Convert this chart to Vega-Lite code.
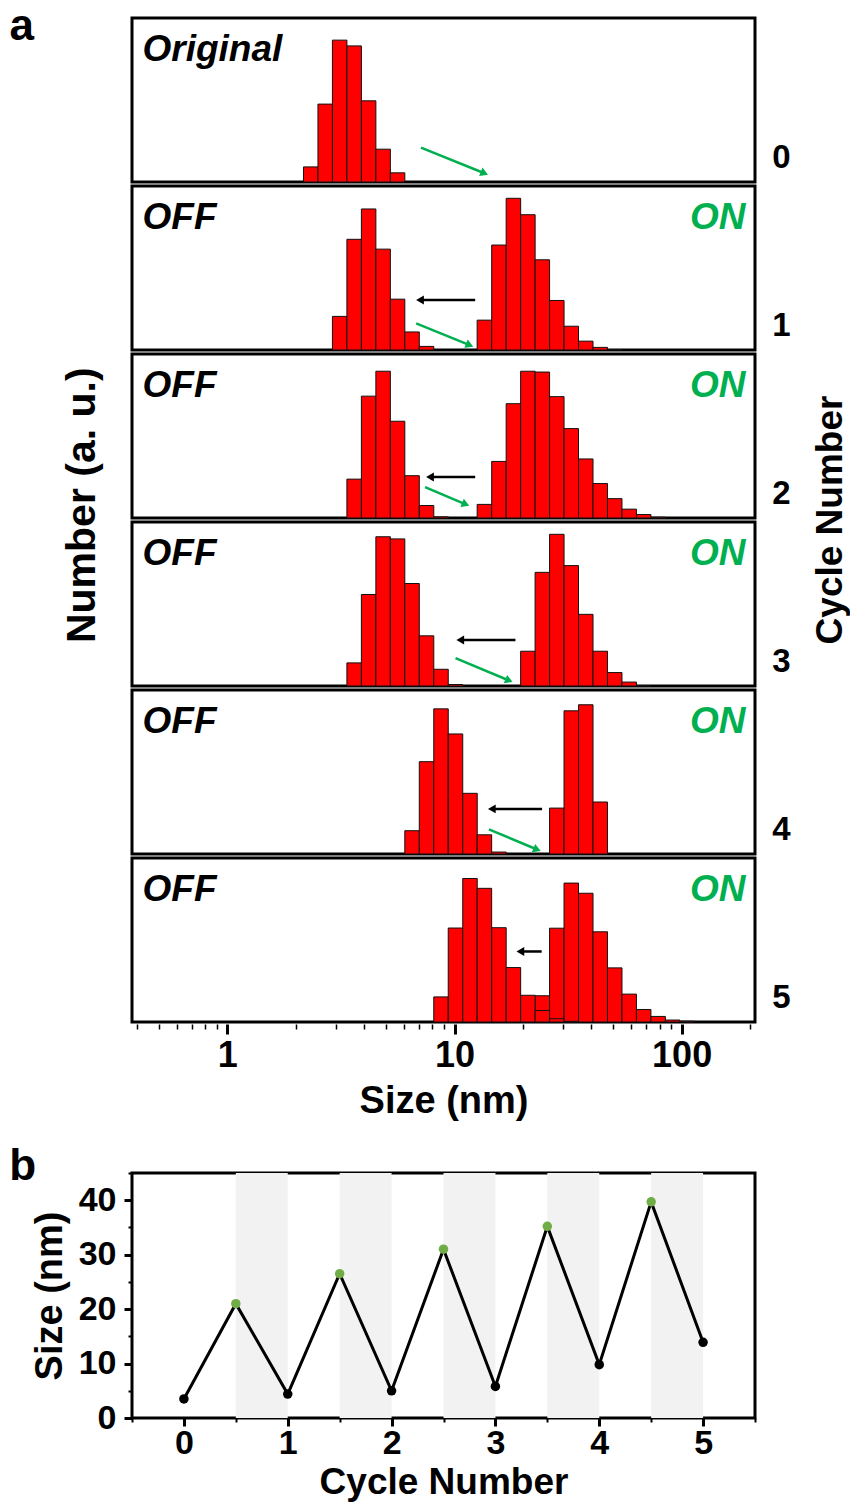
{
  "$schema": "https://vega.github.io/schema/vega-lite/v6.json",
  "background": "white",
  "padding": {"left": 7, "top": 4, "right": 0, "bottom": 0},
  "config": {
    "font": "Liberation Sans",
    "view": {"stroke": "black", "strokeWidth": 3},
    "axis": {
      "grid": false,
      "labelFont": "Liberation Sans",
      "labelFontWeight": "bold",
      "labelColor": "black",
      "titleFont": "Liberation Sans",
      "titleFontWeight": "bold",
      "titleColor": "black",
      "tickColor": "black",
      "domainColor": "black",
      "labelFlush": false,
      "labelOverlap": false
    },
    "title": {"font": "Liberation Sans", "fontWeight": "bold", "color": "black"}
  },
  "resolve": {"scale": {"color": "independent"}},
  "spacing": 23,
  "vconcat": [
    {
      "title": {"text": "a", "anchor": "start", "frame": "bounds", "fontSize": 44, "baseline": "alphabetic", "offset": -67, "dx": -52},
      "vconcat": [
        {
          "title": {"text": "Number (a. u.)", "orient": "left", "anchor": "middle", "frame": "bounds", "fontSize": 41, "offset": 27, "dx": 63},
          "data": {"values": [
            {"kind": "bar", "cycle": 0, "state": "OFF", "size": 2.328, "number": 9.2},
            {"kind": "bar", "cycle": 0, "state": "OFF", "size": 2.696, "number": 47.5},
            {"kind": "bar", "cycle": 0, "state": "OFF", "size": 3.122, "number": 86.5},
            {"kind": "bar", "cycle": 0, "state": "OFF", "size": 3.615, "number": 83},
            {"kind": "bar", "cycle": 0, "state": "OFF", "size": 4.187, "number": 49.5},
            {"kind": "bar", "cycle": 0, "state": "OFF", "size": 4.849, "number": 20},
            {"kind": "bar", "cycle": 0, "state": "OFF", "size": 5.615, "number": 5.6},

            {"kind": "bar", "cycle": 1, "state": "OFF", "size": 3.122, "number": 20.5},
            {"kind": "bar", "cycle": 1, "state": "OFF", "size": 3.615, "number": 67.5},
            {"kind": "bar", "cycle": 1, "state": "OFF", "size": 4.187, "number": 86},
            {"kind": "bar", "cycle": 1, "state": "OFF", "size": 4.849, "number": 61.5},
            {"kind": "bar", "cycle": 1, "state": "OFF", "size": 5.615, "number": 31},
            {"kind": "bar", "cycle": 1, "state": "OFF", "size": 6.503, "number": 11},
            {"kind": "bar", "cycle": 1, "state": "OFF", "size": 7.531, "number": 2.2},
            {"kind": "bar", "cycle": 1, "state": "ON", "size": 13.54, "number": 18.2},
            {"kind": "bar", "cycle": 1, "state": "ON", "size": 15.69, "number": 64},
            {"kind": "bar", "cycle": 1, "state": "ON", "size": 18.17, "number": 92.5},
            {"kind": "bar", "cycle": 1, "state": "ON", "size": 21.04, "number": 82.5},
            {"kind": "bar", "cycle": 1, "state": "ON", "size": 24.36, "number": 55},
            {"kind": "bar", "cycle": 1, "state": "ON", "size": 28.21, "number": 30.2},
            {"kind": "bar", "cycle": 1, "state": "ON", "size": 32.67, "number": 14.5},
            {"kind": "bar", "cycle": 1, "state": "ON", "size": 37.84, "number": 5.4},
            {"kind": "bar", "cycle": 1, "state": "ON", "size": 43.82, "number": 1.6},
            {"kind": "bar", "cycle": 1, "state": "ON", "size": 50.75, "number": 0.3},

            {"kind": "bar", "cycle": 2, "state": "OFF", "size": 3.615, "number": 23.7},
            {"kind": "bar", "cycle": 2, "state": "OFF", "size": 4.187, "number": 74.3},
            {"kind": "bar", "cycle": 2, "state": "OFF", "size": 4.849, "number": 89.5},
            {"kind": "bar", "cycle": 2, "state": "OFF", "size": 5.615, "number": 59},
            {"kind": "bar", "cycle": 2, "state": "OFF", "size": 6.503, "number": 25.8},
            {"kind": "bar", "cycle": 2, "state": "OFF", "size": 7.531, "number": 7.6},
            {"kind": "bar", "cycle": 2, "state": "OFF", "size": 8.721, "number": 0.7},
            {"kind": "bar", "cycle": 2, "state": "ON", "size": 13.54, "number": 8.3},
            {"kind": "bar", "cycle": 2, "state": "ON", "size": 15.69, "number": 34.5},
            {"kind": "bar", "cycle": 2, "state": "ON", "size": 18.17, "number": 69.7},
            {"kind": "bar", "cycle": 2, "state": "ON", "size": 21.04, "number": 89.5},
            {"kind": "bar", "cycle": 2, "state": "ON", "size": 24.36, "number": 89},
            {"kind": "bar", "cycle": 2, "state": "ON", "size": 28.21, "number": 74},
            {"kind": "bar", "cycle": 2, "state": "ON", "size": 32.67, "number": 54.5},
            {"kind": "bar", "cycle": 2, "state": "ON", "size": 37.84, "number": 36},
            {"kind": "bar", "cycle": 2, "state": "ON", "size": 43.82, "number": 21},
            {"kind": "bar", "cycle": 2, "state": "ON", "size": 50.75, "number": 11.8},
            {"kind": "bar", "cycle": 2, "state": "ON", "size": 58.77, "number": 5.4},
            {"kind": "bar", "cycle": 2, "state": "ON", "size": 68.06, "number": 2.1},
            {"kind": "bar", "cycle": 2, "state": "ON", "size": 78.82, "number": 0.5},

            {"kind": "bar", "cycle": 3, "state": "OFF", "size": 3.615, "number": 14.1},
            {"kind": "bar", "cycle": 3, "state": "OFF", "size": 4.187, "number": 55.8},
            {"kind": "bar", "cycle": 3, "state": "OFF", "size": 4.849, "number": 91},
            {"kind": "bar", "cycle": 3, "state": "OFF", "size": 5.615, "number": 89.7},
            {"kind": "bar", "cycle": 3, "state": "OFF", "size": 6.503, "number": 62.5},
            {"kind": "bar", "cycle": 3, "state": "OFF", "size": 7.531, "number": 30.6},
            {"kind": "bar", "cycle": 3, "state": "OFF", "size": 8.721, "number": 10.2},
            {"kind": "bar", "cycle": 3, "state": "OFF", "size": 10.1, "number": 0.9},
            {"kind": "bar", "cycle": 3, "state": "ON", "size": 21.04, "number": 21.2},
            {"kind": "bar", "cycle": 3, "state": "ON", "size": 24.36, "number": 69.3},
            {"kind": "bar", "cycle": 3, "state": "ON", "size": 28.21, "number": 92.5},
            {"kind": "bar", "cycle": 3, "state": "ON", "size": 32.67, "number": 73.4},
            {"kind": "bar", "cycle": 3, "state": "ON", "size": 37.84, "number": 43.7},
            {"kind": "bar", "cycle": 3, "state": "ON", "size": 43.82, "number": 21.2},
            {"kind": "bar", "cycle": 3, "state": "ON", "size": 50.75, "number": 8.2},
            {"kind": "bar", "cycle": 3, "state": "ON", "size": 58.77, "number": 2.4},
            {"kind": "bar", "cycle": 3, "state": "ON", "size": 68.06, "number": 0.3},

            {"kind": "bar", "cycle": 4, "state": "OFF", "size": 6.503, "number": 14.2},
            {"kind": "bar", "cycle": 4, "state": "OFF", "size": 7.531, "number": 56.3},
            {"kind": "bar", "cycle": 4, "state": "OFF", "size": 8.721, "number": 88.5},
            {"kind": "bar", "cycle": 4, "state": "OFF", "size": 10.1, "number": 73.2},
            {"kind": "bar", "cycle": 4, "state": "OFF", "size": 11.7, "number": 37},
            {"kind": "bar", "cycle": 4, "state": "OFF", "size": 13.54, "number": 11.7},
            {"kind": "bar", "cycle": 4, "state": "OFF", "size": 15.69, "number": 1.2},
            {"kind": "bar", "cycle": 4, "state": "ON", "size": 28.21, "number": 28},
            {"kind": "bar", "cycle": 4, "state": "ON", "size": 32.67, "number": 87.3},
            {"kind": "bar", "cycle": 4, "state": "ON", "size": 37.84, "number": 91},
            {"kind": "bar", "cycle": 4, "state": "ON", "size": 43.82, "number": 31.7},

            {"kind": "bar", "cycle": 5, "state": "ON", "size": 24.36, "number": 16},
            {"kind": "bar", "cycle": 5, "state": "ON", "size": 28.21, "number": 57.2},
            {"kind": "bar", "cycle": 5, "state": "ON", "size": 32.67, "number": 84.7},
            {"kind": "bar", "cycle": 5, "state": "ON", "size": 37.84, "number": 78.5},
            {"kind": "bar", "cycle": 5, "state": "ON", "size": 43.82, "number": 55},
            {"kind": "bar", "cycle": 5, "state": "ON", "size": 50.75, "number": 33},
            {"kind": "bar", "cycle": 5, "state": "ON", "size": 58.77, "number": 17},
            {"kind": "bar", "cycle": 5, "state": "ON", "size": 68.06, "number": 7.6},
            {"kind": "bar", "cycle": 5, "state": "ON", "size": 78.82, "number": 3.4},
            {"kind": "bar", "cycle": 5, "state": "ON", "size": 91.28, "number": 1.2},
            {"kind": "bar", "cycle": 5, "state": "ON", "size": 105.7, "number": 0.5},
            {"kind": "bar", "cycle": 5, "state": "OFF", "size": 8.721, "number": 15.3},
            {"kind": "bar", "cycle": 5, "state": "OFF", "size": 10.1, "number": 57.3},
            {"kind": "bar", "cycle": 5, "state": "OFF", "size": 11.7, "number": 87.5},
            {"kind": "bar", "cycle": 5, "state": "OFF", "size": 13.54, "number": 81.5},
            {"kind": "bar", "cycle": 5, "state": "OFF", "size": 15.69, "number": 57.5},
            {"kind": "bar", "cycle": 5, "state": "OFF", "size": 18.17, "number": 33.2},
            {"kind": "bar", "cycle": 5, "state": "OFF", "size": 21.04, "number": 16.3},
            {"kind": "bar", "cycle": 5, "state": "OFF", "size": 24.36, "number": 7},
            {"kind": "bar", "cycle": 5, "state": "OFF", "size": 28.21, "number": 2},
            {"kind": "bar", "cycle": 5, "state": "OFF", "size": 32.67, "number": 0.4},

            {"kind": "arrow", "cycle": 0, "transition": "to_on", "size": 7.12, "number": 21, "size_end": 13.54, "number_end": 5.35},
            {"kind": "arrow", "cycle": 1, "transition": "to_off", "size": 12.33, "number": 30.5, "size_end": 7.05, "number_end": 30.5},
            {"kind": "arrow", "cycle": 1, "transition": "to_on", "size": 6.78, "number": 16.2, "size_end": 11.66, "number_end": 2.95},
            {"kind": "arrow", "cycle": 2, "transition": "to_off", "size": 12.33, "number": 25, "size_end": 7.8, "number_end": 25},
            {"kind": "arrow", "cycle": 2, "transition": "to_on", "size": 7.42, "number": 18.8, "size_end": 11.2, "number_end": 8.35},
            {"kind": "arrow", "cycle": 3, "transition": "to_off", "size": 18.55, "number": 28.1, "size_end": 10.6, "number_end": 28.1},
            {"kind": "arrow", "cycle": 3, "transition": "to_on", "size": 10.1, "number": 17, "size_end": 17.38, "number_end": 3.35},
            {"kind": "arrow", "cycle": 4, "transition": "to_off", "size": 24.3, "number": 27.5, "size_end": 14.6, "number_end": 27.5},
            {"kind": "arrow", "cycle": 4, "transition": "to_on", "size": 14.18, "number": 15, "size_end": 23.1, "number_end": 2.75},
            {"kind": "arrow", "cycle": 5, "transition": "to_off", "size": 24.2, "number": 43, "size_end": 19.5, "number_end": 43},

            {"kind": "label", "cycle": 0, "left_text": "Original", "right_text": ""},
            {"kind": "label", "cycle": 1, "left_text": "OFF", "right_text": "ON"},
            {"kind": "label", "cycle": 2, "left_text": "OFF", "right_text": "ON"},
            {"kind": "label", "cycle": 3, "left_text": "OFF", "right_text": "ON"},
            {"kind": "label", "cycle": 4, "left_text": "OFF", "right_text": "ON"},
            {"kind": "label", "cycle": 5, "left_text": "OFF", "right_text": "ON"}
          ]},
          "facet": {
            "row": {
              "field": "cycle",
              "type": "ordinal",
              "header": {
                "title": "Cycle Number",
                "titleOrient": "right",
                "titleAngle": 270,
                "titleFont": "Liberation Sans",
                "titleFontSize": 37,
                "titleFontWeight": "bold",
                "titleColor": "black",
                "titlePadding": 12,
                "labelOrient": "right",
                "labelAngle": 0,
                "labelAnchor": "end",
                "labelAlign": "left",
                "labelBaseline": "line-bottom",
                "labelLineHeight": 48,
                "labelFont": "Liberation Sans",
                "labelFontSize": 33,
                "labelFontWeight": "bold",
                "labelColor": "black",
                "labelPadding": -3
              }
            }
          },
          "spacing": 0,
          "spec": {
            "width": 623,
            "height": 164,
            "layer": [
              {
                "transform": [{"filter": "datum.kind == 'bar' && datum.state == 'ON'"}],
                "mark": {"type": "bar", "orient": "vertical", "size": 14.5, "fill": "#ff0000", "stroke": "#111111", "strokeWidth": 1},
                "encoding": {
                  "x": {
                    "field": "size",
                    "type": "quantitative",
                    "scale": {"type": "log", "domain": [0.4, 200], "nice": false},
                    "axis": {
                      "title": "Size (nm)",
                      "titleFontSize": 38,
                      "titlePadding": 9,
                      "labelFontSize": 36,
                      "labelPadding": 4,
                      "domain": false,
                      "values": [0.4, 0.5, 0.6, 0.7, 0.8, 0.9, 1, 2, 3, 4, 5, 6, 7, 8, 9, 10, 20, 30, 40, 50, 60, 70, 80, 90, 100, 200],
                      "labelExpr": "datum.value == 1 ? '1' : datum.value == 10 ? '10' : datum.value == 100 ? '100' : ''",
                      "tickSize": {"condition": {"test": "datum.value == 1 || datum.value == 10 || datum.value == 100", "value": 10}, "value": 5},
                      "tickWidth": {"condition": {"test": "datum.value == 1 || datum.value == 10 || datum.value == 100", "value": 3}, "value": 1.5}
                    }
                  },
                  "y": {"field": "number", "type": "quantitative", "scale": {"domain": [0, 100], "nice": false}, "axis": null}
                }
              },
              {
                "transform": [{"filter": "datum.kind == 'bar' && datum.state == 'OFF'"}],
                "mark": {"type": "bar", "orient": "vertical", "size": 14.5, "fill": "#ff0000", "stroke": "#111111", "strokeWidth": 1},
                "encoding": {
                  "x": {"field": "size", "type": "quantitative"},
                  "y": {"field": "number", "type": "quantitative", "axis": null}
                }
              },
              {
                "transform": [{"filter": "datum.kind == 'arrow'"}],
                "mark": {"type": "rule", "strokeWidth": 2.5},
                "encoding": {
                  "x": {"field": "size", "type": "quantitative"},
                  "x2": {"field": "size_end"},
                  "y": {"field": "number", "type": "quantitative", "axis": null},
                  "y2": {"field": "number_end"},
                  "color": {"field": "transition", "type": "nominal", "scale": {"domain": ["to_off", "to_on"], "range": ["black", "#00b050"]}, "legend": null}
                }
              },
              {
                "transform": [{"filter": "datum.kind == 'arrow' && datum.transition == 'to_off'"}],
                "mark": {"type": "point", "shape": "triangle-left", "filled": true, "size": 80, "color": "black", "opacity": 1},
                "encoding": {
                  "x": {"field": "size_end", "type": "quantitative"},
                  "y": {"field": "number_end", "type": "quantitative", "axis": null}
                }
              },
              {
                "transform": [{"filter": "datum.kind == 'arrow' && datum.transition == 'to_on'"}],
                "mark": {"type": "point", "shape": "triangle-right", "angle": 22.5, "filled": true, "size": 80, "color": "#00b050", "opacity": 1},
                "encoding": {
                  "x": {"field": "size_end", "type": "quantitative"},
                  "y": {"field": "number_end", "type": "quantitative", "axis": null}
                }
              },
              {
                "transform": [{"filter": "datum.kind == 'label'"}],
                "mark": {"type": "text", "align": "left", "baseline": "alphabetic", "fontSize": 37, "fontWeight": "bold", "fontStyle": "italic", "color": "black"},
                "encoding": {
                  "x": {"datum": 0.423, "type": "quantitative"},
                  "y": {"datum": 73.5, "type": "quantitative", "axis": null},
                  "text": {"field": "left_text"}
                }
              },
              {
                "transform": [{"filter": "datum.kind == 'label'"}],
                "mark": {"type": "text", "align": "right", "baseline": "alphabetic", "fontSize": 37, "fontWeight": "bold", "fontStyle": "italic", "color": "#00b050"},
                "encoding": {
                  "x": {"datum": 191, "type": "quantitative"},
                  "y": {"datum": 73.5, "type": "quantitative", "axis": null},
                  "text": {"field": "right_text"}
                }
              }
            ]
          }
        }
      ]
    },
    {
      "title": {"text": "b", "anchor": "start", "frame": "bounds", "fontSize": 44, "baseline": "alphabetic", "offset": -68, "dx": -22},
      "width": 623,
      "height": 245,
      "layer": [
        {
          "data": {"values": [
            {"on_start": 0.5, "on_end": 1},
            {"on_start": 1.5, "on_end": 2},
            {"on_start": 2.5, "on_end": 3},
            {"on_start": 3.5, "on_end": 4},
            {"on_start": 4.5, "on_end": 5}
          ]},
          "mark": {"type": "rect", "color": "#f2f2f2"},
          "encoding": {
            "x": {
              "field": "on_start",
              "type": "quantitative",
              "scale": {"domain": [-0.5, 5.5], "nice": false, "zero": false},
              "axis": {
                "title": "Cycle Number",
                "titleFontSize": 37,
                "titlePadding": 4,
                "labelFontSize": 34,
                "labelPadding": 0,
                "domain": false,
                "values": [-0.5, 0, 0.5, 1, 1.5, 2, 2.5, 3, 3.5, 4, 4.5, 5, 5.5],
                "labelExpr": "datum.value % 1 == 0 ? format(datum.value, 'd') : ''",
                "tickSize": {"condition": {"test": "datum.value % 1 == 0", "value": 8}, "value": 4},
                "tickWidth": {"condition": {"test": "datum.value % 1 == 0", "value": 3}, "value": 2}
              }
            },
            "x2": {"field": "on_end"}
          }
        },
        {
          "data": {"values": [
            {"cycle": 0, "size": 3.5, "state": "OFF"},
            {"cycle": 0.5, "size": 21, "state": "ON"},
            {"cycle": 1, "size": 4.4, "state": "OFF"},
            {"cycle": 1.5, "size": 26.5, "state": "ON"},
            {"cycle": 2, "size": 5, "state": "OFF"},
            {"cycle": 2.5, "size": 31, "state": "ON"},
            {"cycle": 3, "size": 5.8, "state": "OFF"},
            {"cycle": 3.5, "size": 35.2, "state": "ON"},
            {"cycle": 4, "size": 9.8, "state": "OFF"},
            {"cycle": 4.5, "size": 39.7, "state": "ON"},
            {"cycle": 5, "size": 13.9, "state": "OFF"}
          ]},
          "encoding": {
            "x": {"field": "cycle", "type": "quantitative"},
            "y": {
              "field": "size",
              "type": "quantitative",
              "scale": {"domain": [0, 45], "nice": false},
              "axis": {
                "title": "Size (nm)",
                "titleFontSize": 38,
                "titlePadding": 9,
                "labelFontSize": 34,
                "labelPadding": 8,
                "domain": false,
                "values": [0, 5, 10, 15, 20, 25, 30, 35, 40, 45],
                "labelExpr": "datum.value % 10 == 0 && datum.value < 45 ? format(datum.value, 'd') : ''",
                "tickSize": {"condition": {"test": "datum.value % 10 == 0", "value": 8}, "value": 4},
                "tickWidth": {"condition": {"test": "datum.value % 10 == 0", "value": 3}, "value": 2}
              }
            }
          },
          "layer": [
            {"mark": {"type": "line", "color": "black", "strokeWidth": 3}},
            {
              "mark": {"type": "point", "filled": true, "size": 90, "opacity": 1},
              "encoding": {
                "color": {"field": "state", "type": "nominal", "scale": {"domain": ["OFF", "ON"], "range": ["black", "#70ad47"]}, "legend": null}
              }
            }
          ]
        }
      ]
    }
  ]
}
